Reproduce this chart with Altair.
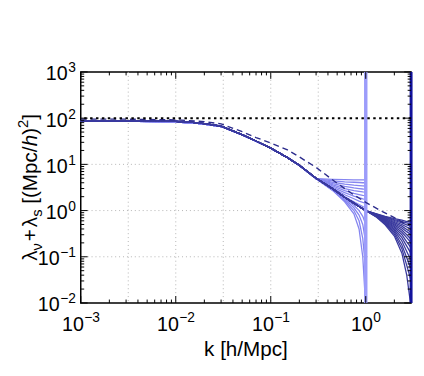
import altair as alt
import pandas as pd

# ---------------- data ----------------
base_k = [0.001, 0.002, 0.004, 0.007, 0.01, 0.015, 0.02, 0.03, 0.05, 0.07, 0.1, 0.15, 0.2, 0.3]
dark_base = [88, 88, 88, 87, 85, 81, 76, 67, 44, 32, 22.5, 14, 9.6, 5.0]
light_base = [85, 85, 85, 84, 82.5, 79, 74.5, 66, 43.5, 31.7, 22.3, 13.9, 9.5, 4.9]

light_tail_k = [0.45, 0.6, 0.75, 0.85, 0.93, 1.0]
light_tails = [
    [4.75, 4.65, 4.6, 4.6, 4.6, 4.6],
    [4.4, 4.2, 4.1, 4.05, 4.0, 4.0],
    [4.1, 3.75, 3.55, 3.47, 3.42, 3.4],
    [3.85, 3.35, 3.1, 3.0, 2.93, 2.9],
    [3.6, 3.0, 2.7, 2.6, 2.53, 2.5],
    [3.4, 2.7, 2.35, 2.22, 2.14, 2.1],
    [3.2, 2.45, 2.05, 1.9, 1.8, 1.75],
    [3.05, 2.2, 1.8, 1.6, 1.5, 1.45],
    [2.95, 2.0, 1.55, 1.35, 1.22, 1.15],
    [2.85, 1.85, 1.3, 1.0, 0.75, 0.5],
    [2.8, 1.75, 1.15, 0.8, 0.5, 0.2],
    [2.75, 1.65, 1.0, 0.6, 0.25, 0.05],
    [2.7, 1.55, 0.85, 0.4, 0.1, 0.008],
]

dark_mid_k = [0.45, 0.6, 0.75, 0.85, 1.0]
dark_mid = [2.95, 1.95, 1.45, 1.22, 1.0]
dark_tail_k = [1.3, 1.6, 2.0, 2.4, 2.7, 3.0]
dark_tails = [
    [0.85, 0.75, 0.67, 0.62, 0.58, 0.56],
    [0.84, 0.73, 0.64, 0.58, 0.54, 0.51],
    [0.83, 0.71, 0.61, 0.54, 0.49, 0.46],
    [0.82, 0.69, 0.58, 0.50, 0.44, 0.40],
    [0.81, 0.67, 0.55, 0.46, 0.39, 0.34],
    [0.80, 0.65, 0.52, 0.42, 0.35, 0.30],
    [0.79, 0.63, 0.49, 0.38, 0.30, 0.24],
    [0.78, 0.61, 0.46, 0.34, 0.26, 0.20],
    [0.77, 0.59, 0.43, 0.30, 0.21, 0.156],
    [0.76, 0.57, 0.40, 0.26, 0.17, 0.117],
    [0.75, 0.55, 0.37, 0.22, 0.13, 0.083],
    [0.74, 0.53, 0.34, 0.18, 0.095, 0.053],
    [0.73, 0.51, 0.31, 0.15, 0.065, 0.03],
    [0.72, 0.49, 0.28, 0.12, 0.04, 0.008],
]

dash_k = [0.001, 0.003, 0.01, 0.02, 0.03, 0.05, 0.07, 0.1, 0.15, 0.2, 0.3, 0.5, 0.7, 1.0, 1.5, 2.0, 2.5, 3.0]
dash_v = [95, 95, 92, 84, 75, 51, 38, 29, 20.5, 14.5, 8.6, 3.9, 2.4, 1.5, 0.95, 0.7, 0.54, 0.45]

ref_level = [100]
kmax_light = [1.0]
kmax_dark = [3.0]

grid_x = [10 ** -2.5, 0.01, 10 ** -1.5, 0.1, 10 ** -0.5, 1.0]
grid_y = [0.1, 1, 10]

x_major = [0.001, 0.01, 0.1, 1.0]
x_exp = ["\u22123", "\u22122", "\u22121", "0"]
y_major = [0.01, 0.1, 1, 10, 100, 1000]
y_exp = ["\u22122", "\u22121", "0", "1", "2", "3"]
x_minor = [m * 10 ** e for e in (-3, -2, -1, 0) for m in range(2, 10) if m * 10 ** e < 3]
y_minor = [m * 10 ** e for e in (-2, -1, 0, 1, 2) for m in range(2, 10)]

# ---------------- tables ----------------
rows = []
for i, tail in enumerate(light_tails):
    for k, v in zip(base_k + light_tail_k, light_base + tail):
        rows.append({"k": k, "v": v, "s": f"L{i}"})
light_df = pd.DataFrame(rows)

rows = []
for i, tail in enumerate(dark_tails):
    for k, v in zip(base_k + dark_mid_k + dark_tail_k, dark_base + dark_mid + tail):
        rows.append({"k": k, "v": v, "s": f"D{i}"})
dark_df = pd.DataFrame(rows)

dash_df = pd.DataFrame({"k": dash_k, "v": dash_v})

W, H = 336, 235
FONT = "Liberation Sans"
LIGHT = "#8585f0"
DARK = "#3a3a9e"
DASH = "#2c2c8c"
VLIGHT = "#9c9cfa"
VDARK = "#12129c"

xs = alt.Scale(type="log", domain=[0.001, 3], nice=False)
ys = alt.Scale(type="log", domain=[0.01, 1000], nice=False)


def X(f):
    return alt.X(f"{f}:Q", scale=xs, axis=None)


def Y(f):
    return alt.Y(f"{f}:Q", scale=ys, axis=None)


one = alt.Data(values=[{"a": 0}])
layers = []

# grid
layers.append(alt.Chart(pd.DataFrame({"g": grid_x})).mark_rule(
    color="#b4b4b4", strokeDash=[1, 3], strokeWidth=1).encode(x=X("g")))
layers.append(alt.Chart(pd.DataFrame({"g": grid_y})).mark_rule(
    color="#b4b4b4", strokeDash=[1, 3], strokeWidth=1).encode(y=Y("g")))

# curves
layers.append(alt.Chart(light_df).mark_line(color=LIGHT, strokeWidth=1.3, clip=True).encode(
    x=X("k"), y=Y("v"), detail="s:N"))
layers.append(alt.Chart(dark_df).mark_line(color=DARK, strokeWidth=1.3, clip=True).encode(
    x=X("k"), y=Y("v"), detail="s:N"))

# vertical markers
layers.append(alt.Chart(pd.DataFrame({"k": kmax_light})).mark_rule(
    color=VLIGHT, strokeWidth=3.5).encode(x=X("k")))
layers.append(alt.Chart(pd.DataFrame({"k": kmax_dark})).mark_rule(
    color=VDARK, strokeWidth=3).encode(x=X("k")))

layers.append(alt.Chart(dash_df).mark_line(color=DASH, strokeWidth=1.4, strokeDash=[6, 4], clip=True).encode(
    x=X("k"), y=Y("v")))
layers.append(alt.Chart(pd.DataFrame({"r": ref_level})).mark_rule(
    color="black", strokeDash=[2.5, 3.5], strokeWidth=2).encode(y=Y("r")))

# ticks (inward, all four sides)
for vals, ln in ((x_major, 7), (x_minor, 3.5)):
    d = pd.DataFrame({"t": vals})
    layers.append(alt.Chart(d).mark_rule(color="black", strokeWidth=1).encode(
        x=X("t"), y=alt.value(0), y2=alt.value(ln)))
    layers.append(alt.Chart(d).mark_rule(color="black", strokeWidth=1).encode(
        x=X("t"), y=alt.value(H), y2=alt.value(H - ln)))
for vals, ln in ((y_major, 7), (y_minor, 3.5)):
    d = pd.DataFrame({"t": vals})
    layers.append(alt.Chart(d).mark_rule(color="black", strokeWidth=1).encode(
        y=Y("t"), x=alt.value(0), x2=alt.value(ln)))
    layers.append(alt.Chart(d).mark_rule(color="black", strokeWidth=1).encode(
        y=Y("t"), x=alt.value(W), x2=alt.value(W - ln)))

# tick labels: x
xl = pd.DataFrame({"t": x_major, "e": x_exp})
for neg, off in ((True, 3.2), (False, 7.2)):
    flt = "indexof(datum.e, '\u2212') >= 0" if neg else "indexof(datum.e, '\u2212') < 0"
    layers.append(alt.Chart(xl).transform_filter(flt).mark_text(
        text="10", align="right", baseline="alphabetic", font=FONT, fontSize=20, dx=off, color="black").encode(
        x=X("t"), y=alt.value(H + 29)))
    layers.append(alt.Chart(xl).transform_filter(flt).mark_text(
        align="left", baseline="alphabetic", font=FONT, fontSize=14, dx=off + 0.3, color="black").encode(
        x=X("t"), y=alt.value(H + 19.5), text="e:N"))

# tick labels: y
yl = pd.DataFrame({"t": y_major, "e": y_exp})
for neg, off in ((True, -21.5), (False, -13.3)):
    flt = "indexof(datum.e, '\u2212') >= 0" if neg else "indexof(datum.e, '\u2212') < 0"
    layers.append(alt.Chart(yl).transform_filter(flt).mark_text(
        text="10", align="right", baseline="alphabetic", font=FONT, fontSize=20, dy=8.5, color="black").encode(
        x=alt.value(off), y=Y("t")))
layers.append(alt.Chart(yl).mark_text(
    align="right", baseline="alphabetic", font=FONT, fontSize=14, dy=0.5, color="black").encode(
    x=alt.value(-5), y=Y("t"), text="e:N"))

# x title
layers.append(alt.Chart(one).mark_text(
    text="k [h/Mpc]", align="center", baseline="alphabetic", font=FONT, fontSize=21, color="black").encode(
    x=alt.value(W / 2), y=alt.value(H + 54)))

# y title, built piece by piece (rotated)
pieces = [
    ("\u03bb", 21, 10.5, 0, "normal"),
    ("\u03bd", 15, 7.5, 5, "normal"),
    ("", 0, 2, 0, "normal"),
    ("+", 21, 12.3, 0, "normal"),
    ("", 0, 2, 0, "normal"),
    ("\u03bb", 21, 10.5, 0, "normal"),
    ("s", 15, 7.5, 5, "normal"),
    ("", 0, 5.8, 0, "normal"),
    ("[(Mpc/", 21, 58.4, 0, "normal"),
    ("h", 21, 11.7, 0, "italic"),
    (")", 21, 7.0, 0, "normal"),
    ("2", 15, 8.3, -9, "normal"),
    ("]", 21, 5.8, 0, "normal"),
]
total = sum(p[2] for p in pieces)
pos = H / 2 + total / 2
BASE_X = -44.5
for txt, fs, w, shift, style in pieces:
    if txt:
        layers.append(alt.Chart(one).mark_text(
            text=txt, angle=270, align="left", baseline="alphabetic", font=FONT, fontSize=fs,
            fontStyle=style, color="black").encode(
            x=alt.value(BASE_X + shift), y=alt.value(pos)))
    pos -= w

chart = alt.layer(*layers).properties(
    width=W, height=H,
    autosize=alt.AutoSizeParams(type="none"),
    padding={"left": 74, "top": 62, "right": 5, "bottom": 58},
).configure_view(stroke="black", strokeWidth=1.5)

chart.save("out.html", embed_options={"renderer": "svg", "actions": False})
